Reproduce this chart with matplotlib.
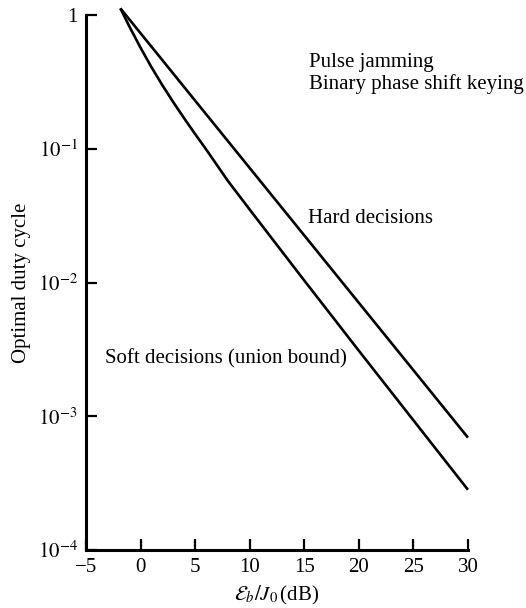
import matplotlib
matplotlib.use("Agg")
import matplotlib.pyplot as plt

plt.rcParams["font.family"] = ["Liberation Serif", "DejaVu Serif"]
plt.rcParams["mathtext.fontset"] = "stix"

# Eb/J0 in dB and optimal duty cycle for each decision rule
hard_ebj0 = [-1.85, 0, 5, 10, 15, 20, 25, 30]
hard_rho = [1.122, 0.731, 0.229, 0.0718, 0.0225, 0.00705, 0.00221, 0.000692]

soft_ebj0 = [-1.85, -1, 0, 1, 2, 3, 4, 5, 6, 8, 10, 15, 20, 25, 30]
soft_rho = [1.122, 0.813, 0.569, 0.407, 0.2985, 0.2228, 0.1687, 0.1288,
            0.0991, 0.0575, 0.0351, 0.01035, 0.00309, 0.000933, 0.000282]

x_ticks = [-5, 0, 5, 10, 15, 20, 25, 30]
y_ticks = [1e-4, 1e-3, 1e-2, 1e-1, 1]
y_tick_labels = [r"$10^{-4}$", r"$10^{-3}$", r"$10^{-2}$", r"$10^{-1}$", "1"]

fig = plt.figure(figsize=(5.26, 6.08), dpi=100)
ax = fig.add_axes([0.1635, 0.0954, 0.7262, 0.8799])

ax.plot(hard_ebj0, hard_rho, color="black", lw=1.9, clip_on=False, solid_capstyle="butt")
ax.plot(soft_ebj0, soft_rho, color="black", lw=1.9, clip_on=False, solid_capstyle="butt")

ax.set_yscale("log")
ax.set_xlim(-5, 30)
ax.set_ylim(1e-4, 1)
ax.set_xticks(x_ticks)
ax.set_xticklabels([f"{v}" if v >= 0 else f"\u2212{abs(v)}" for v in x_ticks])
ax.set_yticks(y_ticks)
ax.set_yticklabels(y_tick_labels)
ax.minorticks_off()

for side in ("top", "right"):
    ax.spines[side].set_visible(False)
for side in ("left", "bottom"):
    ax.spines[side].set_linewidth(2.2)

ax.tick_params(axis="both", direction="in", length=8, width=1.6, labelsize=15)
ax.tick_params(axis="x", pad=6)
ax.tick_params(axis="y", pad=6)

ax.set_xlabel(r"$\mathcal{E}_b/J_0\,$(dB)", fontsize=15, labelpad=5)
ax.set_ylabel("Optimal duty cycle", fontsize=15, labelpad=5)

ax.text(0.5838, 0.9028, "Pulse jamming", transform=ax.transAxes,
        fontsize=15, va="baseline", ha="left")
ax.text(0.5838, 0.8617, "Binary phase shift keying", transform=ax.transAxes,
        fontsize=15, va="baseline", ha="left")
ax.text(0.581, 0.612, "Hard decisions", transform=ax.transAxes,
        fontsize=15, va="baseline", ha="left")
ax.text(0.05, 0.349, "Soft decisions (union bound)", transform=ax.transAxes,
        fontsize=15, va="baseline", ha="left")

fig.savefig("out.png", dpi=100, facecolor="white")
